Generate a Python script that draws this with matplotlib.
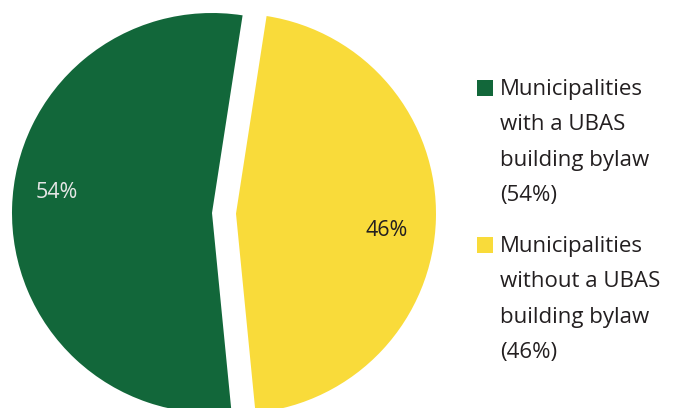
import matplotlib.pyplot as plt
from matplotlib.patches import Rectangle

# data
labels = ["Municipalities\nwith a UBAS\nbuilding bylaw\n(54%)",
          "Municipalities\nwithout a UBAS\nbuilding bylaw\n(46%)"]
values = [54, 46]
pct_text = ["54%", "46%"]
colors = ["#12673A", "#F9DB3A"]
pct_colors = ["#E6E6E6", "#231F20"]

W, H = 676, 408
fig = plt.figure(figsize=(W / 100, H / 100), dpi=100)
ax = fig.add_axes([0, 0, 1, 1])

# pie in pixel coords (y flipped: top of image = H)
cx, cy, r = 212, H - 213, 200
wedges, _ = ax.pie(values, colors=colors, startangle=81.2, counterclock=True,
                   radius=r, center=(cx, cy), explode=[0, 24],
                   frame=True, wedgeprops=dict(linewidth=0))
ax.set_xlim(0, W)
ax.set_ylim(0, H)
ax.set_aspect("equal")
ax.axis("off")

font = "Open Sans"
ax.text(57, H - 192, pct_text[0], color=pct_colors[0], fontsize=15.5,
        family=font, ha="center", va="center")
ax.text(387, H - 230, pct_text[1], color=pct_colors[1], fontsize=15.5,
        family=font, ha="center", va="center")

# legend
tops = [79, 236]
for lab, col, top in zip(labels, colors, tops):
    ax.add_patch(Rectangle((477, H - top - 17), 16, 16, color=col, lw=0))
    ax.text(500, H - top, lab, color="#231F20", fontsize=16, family=font,
            ha="left", va="top", linespacing=1.9)

fig.savefig("out.png", dpi=100)
